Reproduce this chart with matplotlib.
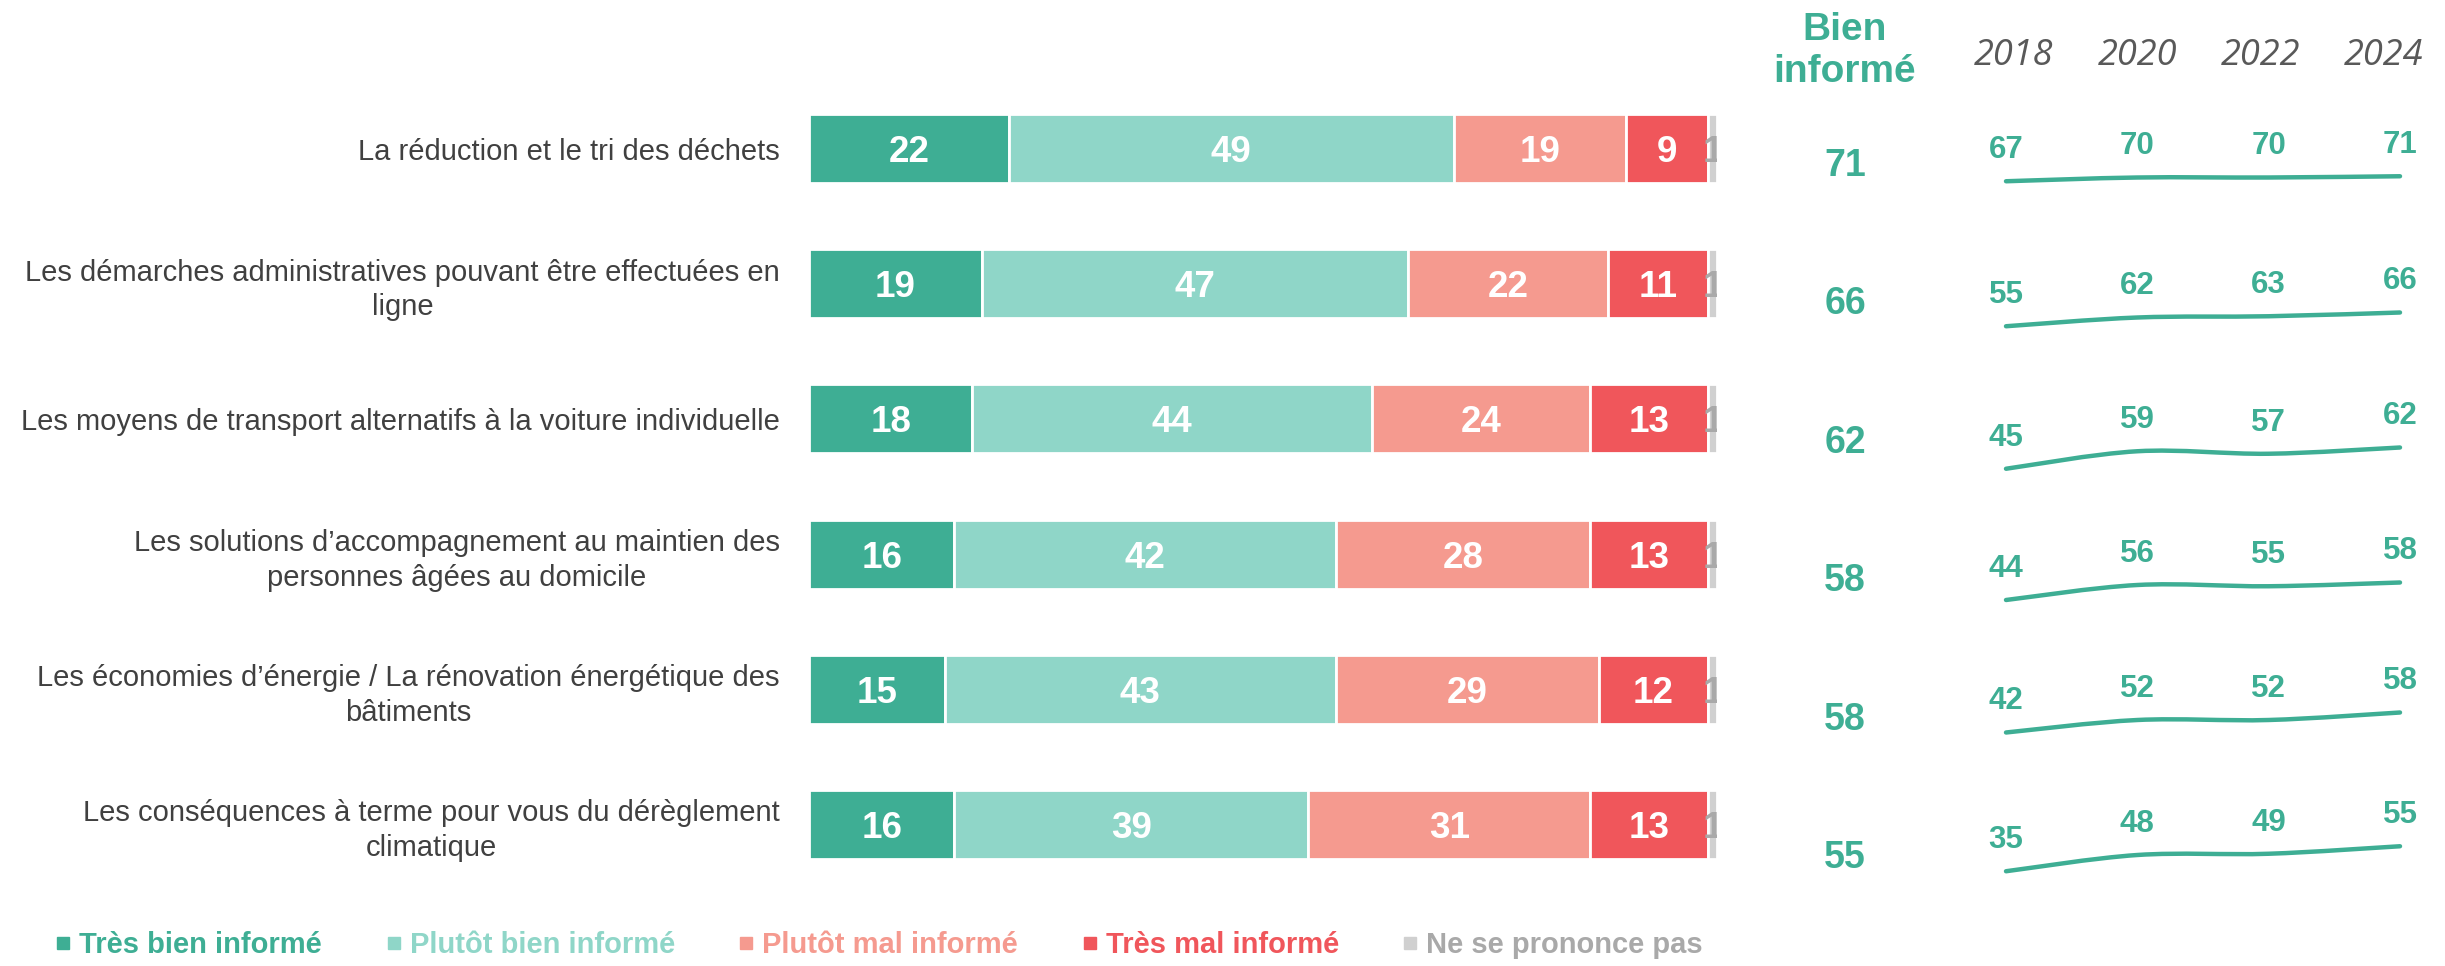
import numpy as np
import matplotlib.pyplot as plt
from matplotlib.path import Path
from matplotlib.patches import PathPatch
from matplotlib.lines import Line2D

categories = [
    "La réduction et le tri des déchets",
    "Les démarches administratives pouvant être effectuées en\nligne",
    "Les moyens de transport alternatifs à la voiture individuelle",
    "Les solutions d’accompagnement au maintien des\npersonnes âgées au domicile",
    "Les économies d’énergie / La rénovation énergétique des\nbâtiments",
    "Les conséquences à terme pour vous du dérèglement\nclimatique",
]
tres_bien = [22, 19, 18, 16, 15, 16]
plutot_bien = [49, 47, 44, 42, 43, 39]
plutot_mal = [19, 22, 24, 28, 29, 31]
tres_mal = [9, 11, 13, 13, 12, 13]
nspp = [1, 1, 1, 1, 1, 1]
series_names = ["Très bien informé", "Plutôt bien informé", "Plutôt mal informé",
                "Très mal informé", "Ne se prononce pas"]
bien_informe = [71, 66, 62, 58, 58, 55]
years = ["2018", "2020", "2022", "2024"]
trend = [
    [67, 70, 70, 71],
    [55, 62, 63, 66],
    [45, 59, 57, 62],
    [44, 56, 55, 58],
    [42, 52, 52, 58],
    [35, 48, 49, 55],
]

colors = ["#3eae94", "#8fd6c8", "#f59a8f", "#f0565b", "#d0d0d0"]
label_colors = ["white", "white", "white", "white", "#a9a9a9"]
green = "#3eae94"

plt.rcParams["font.family"] = ["Liberation Sans", "DejaVu Sans"]

W, H = 2445, 966
fig = plt.figure(figsize=(W / 100, H / 100), dpi=100)


def box(x0, y0, x1, y1):
    # pixel box (top-left origin) -> figure fraction rect
    return [x0 / W, 1 - y1 / H, (x1 - x0) / W, (y1 - y0) / H]


# stacked bars
ax = fig.add_axes(box(809, 81, 1717, 892))
y = np.arange(len(categories))
left = np.zeros(len(categories))
for vals, col, tcol in zip([tres_bien, plutot_bien, plutot_mal, tres_mal, nspp], colors, label_colors):
    vals = np.array(vals)
    ax.barh(y, vals, left=left, height=0.51, color=col, edgecolor="white", linewidth=2)
    for yi, l, v in zip(y, left, vals):
        ax.text(l + v / 2, yi, str(v), ha="center", va="center_baseline", color=tcol,
                fontsize=26.5, fontweight="bold", clip_on=True)
    left += vals
ax.set_xlim(0, 100)
ax.set_ylim(len(categories) - 0.5, -0.5)
ax.set_yticks(y, categories)
ax.tick_params(axis="y", length=0, pad=21, labelsize=21, labelcolor="#404040")
for lab in ax.get_yticklabels():
    lab.set_multialignment("center")
    lab.set_linespacing(1.3)
ax.set_xticks([])
for s in ax.spines.values():
    s.set_visible(False)

# "Bien informé" column
fig.text(1845 / W, 1 - 51 / H, "Bien\ninformé", ha="center", va="center",
         color=green, fontsize=28, fontweight="bold", linespacing=1.25)
axb = fig.add_axes(box(1780, 93, 1910, 923))
axb.set_xlim(0, 1)
axb.set_ylim(len(categories) - 0.5, -0.5)
for i, v in enumerate(bien_informe):
    axb.text(0.5, i, str(v), ha="center", va="center_baseline", color=green,
             fontsize=27, fontweight="bold")
axb.axis("off")

# year header
axy = fig.add_axes(box(2014, 35, 2384, 77))
axy.set_xlim(0, len(years) - 1)
axy.set_ylim(0, 1)
for i, yr in enumerate(years):
    axy.text(i, 0.5, yr, ha="center", va="center", color="#595959",
             fontsize=26, fontstyle="italic", family="Open Sans")
axy.axis("off")


def smooth_path(xs, ys):
    pts = np.column_stack([xs, ys]).astype(float)
    ext = np.vstack([pts[0], pts, pts[-1]])
    verts = [pts[0]]
    codes = [Path.MOVETO]
    for k in range(len(pts) - 1):
        p0, p1, p2, p3 = ext[k], ext[k + 1], ext[k + 2], ext[k + 3]
        verts += [p1 + (p2 - p0) / 6, p2 - (p3 - p1) / 6, p2]
        codes += [Path.CURVE4] * 3
    return Path(verts, codes)


# sparklines
xs = np.arange(len(years))
for i, vals in enumerate(trend):
    base = 265 + 130 * i
    axs = fig.add_axes(box(2006, base - 125, 2400, base))
    axs.set_xlim(0, len(years) - 1)
    axs.set_ylim(0, 100)
    axs.add_patch(PathPatch(smooth_path(xs, vals), facecolor="none", edgecolor=green,
                            linewidth=3.2, capstyle="round", clip_on=False))
    for xv, v in zip(xs, vals):
        axs.annotate(str(v), (xv, v), xytext=(0, 25), textcoords="offset points",
                     ha="center", va="center_baseline", color=green, fontsize=22.5,
                     fontweight="bold")
    axs.axis("off")

# legend
handles = [Line2D([], [], marker="s", linestyle="", color=c, markersize=8) for c in colors]
leg = fig.legend(handles, series_names, loc="center left", bbox_to_anchor=(56 / W, 1 - 945 / H),
                 ncol=5, frameon=False, handlelength=0.5, handletextpad=0.3, columnspacing=2.2,
                 borderaxespad=0, borderpad=0, prop={"size": 21, "weight": "bold"})
for t, c in zip(leg.get_texts(), ["#3eae94", "#8fd6c8", "#f59a8f", "#f0565b", "#a9a9a9"]):
    t.set_color(c)

fig.savefig("out.png", dpi=100)
